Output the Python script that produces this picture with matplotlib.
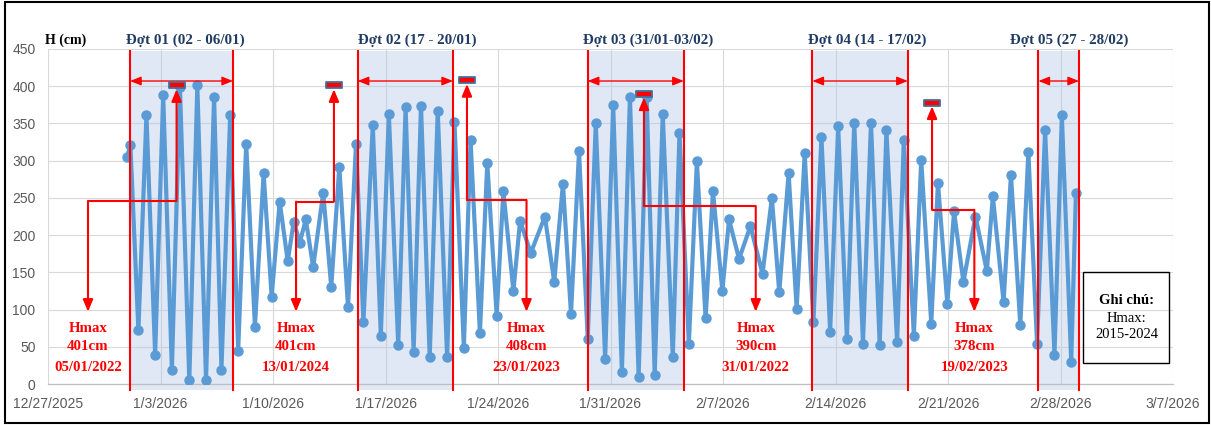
import matplotlib
matplotlib.use("Agg")
import matplotlib.pyplot as plt
import matplotlib.dates as mdates
from matplotlib.patches import Rectangle
from matplotlib.path import Path
import pandas as pd

# ---------------- data ----------------
times = [
    "2025-12-31 22:00", "2026-01-01 03:00", "2026-01-01 15:00", "2026-01-02 03:00", "2026-01-02 16:00",
    "2026-01-03 04:00", "2026-01-03 17:00", "2026-01-04 05:00", "2026-01-04 19:00", "2026-01-05 07:00",
    "2026-01-05 20:00", "2026-01-06 08:00", "2026-01-06 19:00", "2026-01-07 08:00", "2026-01-07 20:00",
    "2026-01-08 08:00", "2026-01-08 21:00", "2026-01-09 10:00", "2026-01-09 22:00", "2026-01-10 10:00",
    "2026-01-10 22:00", "2026-01-11 07:00", "2026-01-11 16:00", "2026-01-12 01:00", "2026-01-12 12:00",
    "2026-01-13 03:00", "2026-01-13 15:00", "2026-01-14 03:00", "2026-01-14 16:00", "2026-01-15 04:00",
    "2026-01-15 15:00", "2026-01-16 05:00", "2026-01-16 17:00", "2026-01-17 05:00", "2026-01-17 19:00",
    "2026-01-18 06:00", "2026-01-18 18:00", "2026-01-19 05:00", "2026-01-19 18:00", "2026-01-20 06:00",
    "2026-01-20 20:00", "2026-01-21 07:00", "2026-01-21 21:00", "2026-01-22 07:00", "2026-01-22 21:00",
    "2026-01-23 08:00", "2026-01-23 22:00", "2026-01-24 08:00", "2026-01-24 23:00", "2026-01-25 09:00",
    "2026-01-26 01:00", "2026-01-26 22:00", "2026-01-27 12:00", "2026-01-28 01:00", "2026-01-28 13:00",
    "2026-01-29 01:00", "2026-01-29 14:00", "2026-01-30 02:00", "2026-01-30 16:00", "2026-01-31 04:00",
    "2026-01-31 17:00", "2026-02-01 05:00", "2026-02-01 18:00", "2026-02-02 06:00", "2026-02-02 18:00",
    "2026-02-03 06:00", "2026-02-03 21:00", "2026-02-04 07:00", "2026-02-04 21:00", "2026-02-05 09:00",
    "2026-02-05 22:00", "2026-02-06 09:00", "2026-02-06 23:00", "2026-02-07 09:00", "2026-02-08 00:00",
    "2026-02-08 17:00", "2026-02-09 11:00", "2026-02-10 01:00", "2026-02-10 12:00", "2026-02-11 02:00",
    "2026-02-11 14:00", "2026-02-12 02:00", "2026-02-12 15:00", "2026-02-13 03:00", "2026-02-13 16:00",
    "2026-02-14 04:00", "2026-02-14 17:00", "2026-02-15 04:00", "2026-02-15 17:00", "2026-02-16 05:00",
    "2026-02-16 18:00", "2026-02-17 04:00", "2026-02-17 20:00", "2026-02-18 06:00", "2026-02-18 21:00",
    "2026-02-19 08:00", "2026-02-19 23:00", "2026-02-20 09:00", "2026-02-20 23:00", "2026-02-21 09:00",
    "2026-02-21 23:00", "2026-02-22 17:00", "2026-02-23 10:00", "2026-02-23 19:00", "2026-02-24 11:00",
    "2026-02-24 22:00", "2026-02-25 12:00", "2026-02-26 00:00", "2026-02-26 13:00", "2026-02-27 01:00",
    "2026-02-27 15:00", "2026-02-28 02:00", "2026-02-28 16:00", "2026-02-28 23:00",
]
levels = [
    305, 321, 72, 361, 39, 388, 19, 399, 5, 401,
    5, 386, 19, 361, 45, 323, 77, 283, 117, 245,
    165, 218, 190, 221, 157, 257, 130, 292, 103, 323,
    83, 348, 65, 363, 52, 372, 43, 374, 36, 367,
    36, 352, 48, 328, 68, 297, 92, 259, 125, 219,
    176, 225, 137, 269, 94, 313, 61, 350, 34, 375,
    16, 386, 10, 385, 12, 363, 36, 337, 54, 299,
    88, 259, 125, 221, 168, 212, 148, 250, 123, 283,
    101, 310, 83, 332, 70, 346, 61, 351, 54, 351,
    52, 341, 56, 328, 65, 301, 81, 270, 108, 232,
    137, 225, 152, 252, 110, 281, 79, 312, 54, 341,
    39, 361, 30, 257,
]

period_labels = ["Đợt 01 (02 - 06/01)", "Đợt 02 (17 - 20/01)", "Đợt 03 (31/01-03/02)",
                 "Đợt 04 (14 - 17/02)", "Đợt 05 (27 - 28/02)"]
period_start = ["2026-01-01 02:30", "2026-01-15 06:30", "2026-01-29 14:00",
                "2026-02-12 13:30", "2026-02-26 15:00"]
period_end = ["2026-01-07 12:20", "2026-01-21 04:50", "2026-02-04 13:30",
              "2026-02-18 12:00", "2026-03-01 03:40"]

hmax_times = ["2026-01-04 00:00", "2026-01-13 19:00", "2026-01-22 01:40",
              "2026-02-02 02:00", "2026-02-20 00:10"]
hmax_values = [401, 401, 408, 390, 378]
hmax_dates = ["05/01/2022", "13/01/2024", "23/01/2023", "31/01/2022", "19/02/2023"]

tick_dates = ["2025-12-27", "2026-01-03", "2026-01-10", "2026-01-17", "2026-01-24",
              "2026-01-31", "2026-02-07", "2026-02-14", "2026-02-21", "2026-02-28", "2026-03-07"]
tick_labels = ["12/27/2025", "1/3/2026", "1/10/2026", "1/17/2026", "1/24/2026",
               "1/31/2026", "2/7/2026", "2/14/2026", "2/21/2026", "2/28/2026", "3/7/2026"]
y_ticks = [0, 50, 100, 150, 200, 250, 300, 350, 400, 450]

# ---------------- layout constants ----------------
W, H = 1211, 425
SERIF = ["Liberation Serif", "DejaVu Serif"]
SANS = ["Liberation Sans", "DejaVu Sans"]
label_times = ["2025-12-29 11:45", "2026-01-11 10:25", "2026-01-25 18:35",
               "2026-02-09 00:55", "2026-02-22 15:20"]
connector_levels = [246, 245, 247, 239, 234]
title_px = [185, 417, 648, 867, 1069]

fig = plt.figure(figsize=(W / 100, H / 100), dpi=100)
ax = fig.add_axes([48 / W, 41 / H, (1173 - 48) / W, 335 / H])

t = mdates.date2num(pd.to_datetime(times))
ax.plot(t, levels, color="#5B9BD5", lw=3.0, marker="o", ms=6.5,
        mfc="#5B9BD5", mec="#5B9BD5", zorder=3, solid_joinstyle="round")

# periods
for s, e in zip(period_start, period_end):
    s_n = mdates.date2num(pd.Timestamp(s))
    e_n = mdates.date2num(pd.Timestamp(e))
    ax.add_patch(Rectangle((s_n, -8), e_n - s_n, 455, facecolor="#b4c7e7", alpha=0.4,
                           edgecolor="none", zorder=1, clip_on=False))
    for xv in (s_n, e_n):
        ax.plot([xv, xv], [-8, 447], color="#FF0000", lw=1.5, zorder=4, clip_on=False)
    ax.annotate("", xy=(e_n, 407), xytext=(s_n, 407),
                arrowprops=dict(arrowstyle="<|-|>,head_length=0.55,head_width=0.22",
                                color="#FF0000", lw=1.0, shrinkA=0, shrinkB=0,
                                mutation_scale=12), zorder=5)

# Hmax markers & connectors
rect = Path([(-1, -0.4), (1, -0.4), (1, 0.4), (-1, 0.4), (-1, -0.4)],
            [Path.MOVETO, Path.LINETO, Path.LINETO, Path.LINETO, Path.CLOSEPOLY])
for ht, hv, hd, lt, lv in zip(hmax_times, hmax_values, hmax_dates, label_times, connector_levels):
    hx = mdates.date2num(pd.Timestamp(ht))
    lx = mdates.date2num(pd.Timestamp(lt))
    ax.plot([lx, hx], [lv, lv], color="#FF0000", lw=1.5, zorder=5, solid_capstyle="butt")
    ax.annotate("", xy=(lx, 97), xytext=(lx, lv),
                arrowprops=dict(arrowstyle="-|>,head_length=0.6,head_width=0.25",
                                color="#FF0000", lw=1.5, shrinkA=0, shrinkB=0,
                                mutation_scale=12), zorder=5)
    ax.annotate("", xy=(hx, hv - 5), xytext=(hx, lv),
                arrowprops=dict(arrowstyle="-|>,head_length=0.6,head_width=0.25",
                                color="#FF0000", lw=1.5, shrinkA=0, shrinkB=0,
                                mutation_scale=12), zorder=5)
    ax.plot([hx], [hv], marker=rect, ms=11.5, mfc="#FF0000", mec="#41719C",
            mew=1.3, zorder=6, clip_on=False)
    kw = dict(ha="center", va="center", color="#FF0000", fontweight="bold",
              family=SERIF, fontsize=10.7, zorder=7)
    ax.text(lx, 74, "Hmax", **kw)
    ax.text(lx, 50, f"{hv}cm", **kw)
    ax.text(lx, 22, hd, **kw)

# axes styling
ax.set_xlim(mdates.date2num(pd.Timestamp(tick_dates[0])), mdates.date2num(pd.Timestamp(tick_dates[-1])))
ax.set_ylim(0, 450)
ax.set_xticks(mdates.date2num(pd.to_datetime(tick_dates)))
ax.set_xticklabels(tick_labels)
ax.set_yticks(y_ticks)
ax.grid(True, color="#D9D9D9", lw=0.8, zorder=0)
ax.set_axisbelow(True)
for sp in ax.spines.values():
    sp.set_visible(False)
ax.spines["bottom"].set_visible(True)
ax.spines["bottom"].set_color("#BFBFBF")
ax.spines["bottom"].set_linewidth(0.9)
ax.tick_params(axis="both", length=0, labelcolor="#595959", labelsize=10)
ax.tick_params(axis="x", pad=9)
ax.tick_params(axis="y", pad=9)
for lab in ax.get_xticklabels() + ax.get_yticklabels():
    lab.set_family(SANS)

# titles
fig.text(45 / W, 1 - 40.5 / H, "H (cm)", ha="left", va="center", fontweight="bold",
         family=SERIF, fontsize=10, color="black")
for lbl, px in zip(period_labels, title_px):
    fig.text(px / W, 1 - 40.5 / H, lbl, ha="center", va="center", fontweight="bold",
             family=SERIF, fontsize=10.8, color="#1F3B63")

# note box
fig.add_artist(Rectangle((1083 / W, (H - 363) / H), (1169 - 1083) / W, (363 - 271.7) / H,
                         transform=fig.transFigure, fill=False, ec="black", lw=1.0))
cx = 1126.5 / W
fig.text(cx, 1 - 301 / H, "Ghi chú:", ha="center", va="center", fontweight="bold",
         family=SERIF, fontsize=10.5, color="black")
fig.text(cx, 1 - 318 / H, "Hmax:", ha="center", va="center", family=SERIF,
         fontsize=10.5, color="black")
fig.text(cx, 1 - 335 / H, "2015-2024", ha="center", va="center", family=SERIF,
         fontsize=10.5, color="black")

# outer frame
fig.add_artist(Rectangle((5 / W, 2 / H), (1209 - 5) / W, (423 - 2) / H,
                         transform=fig.transFigure, fill=False, ec="black", lw=1.5))

fig.savefig("out.png", dpi=100)
